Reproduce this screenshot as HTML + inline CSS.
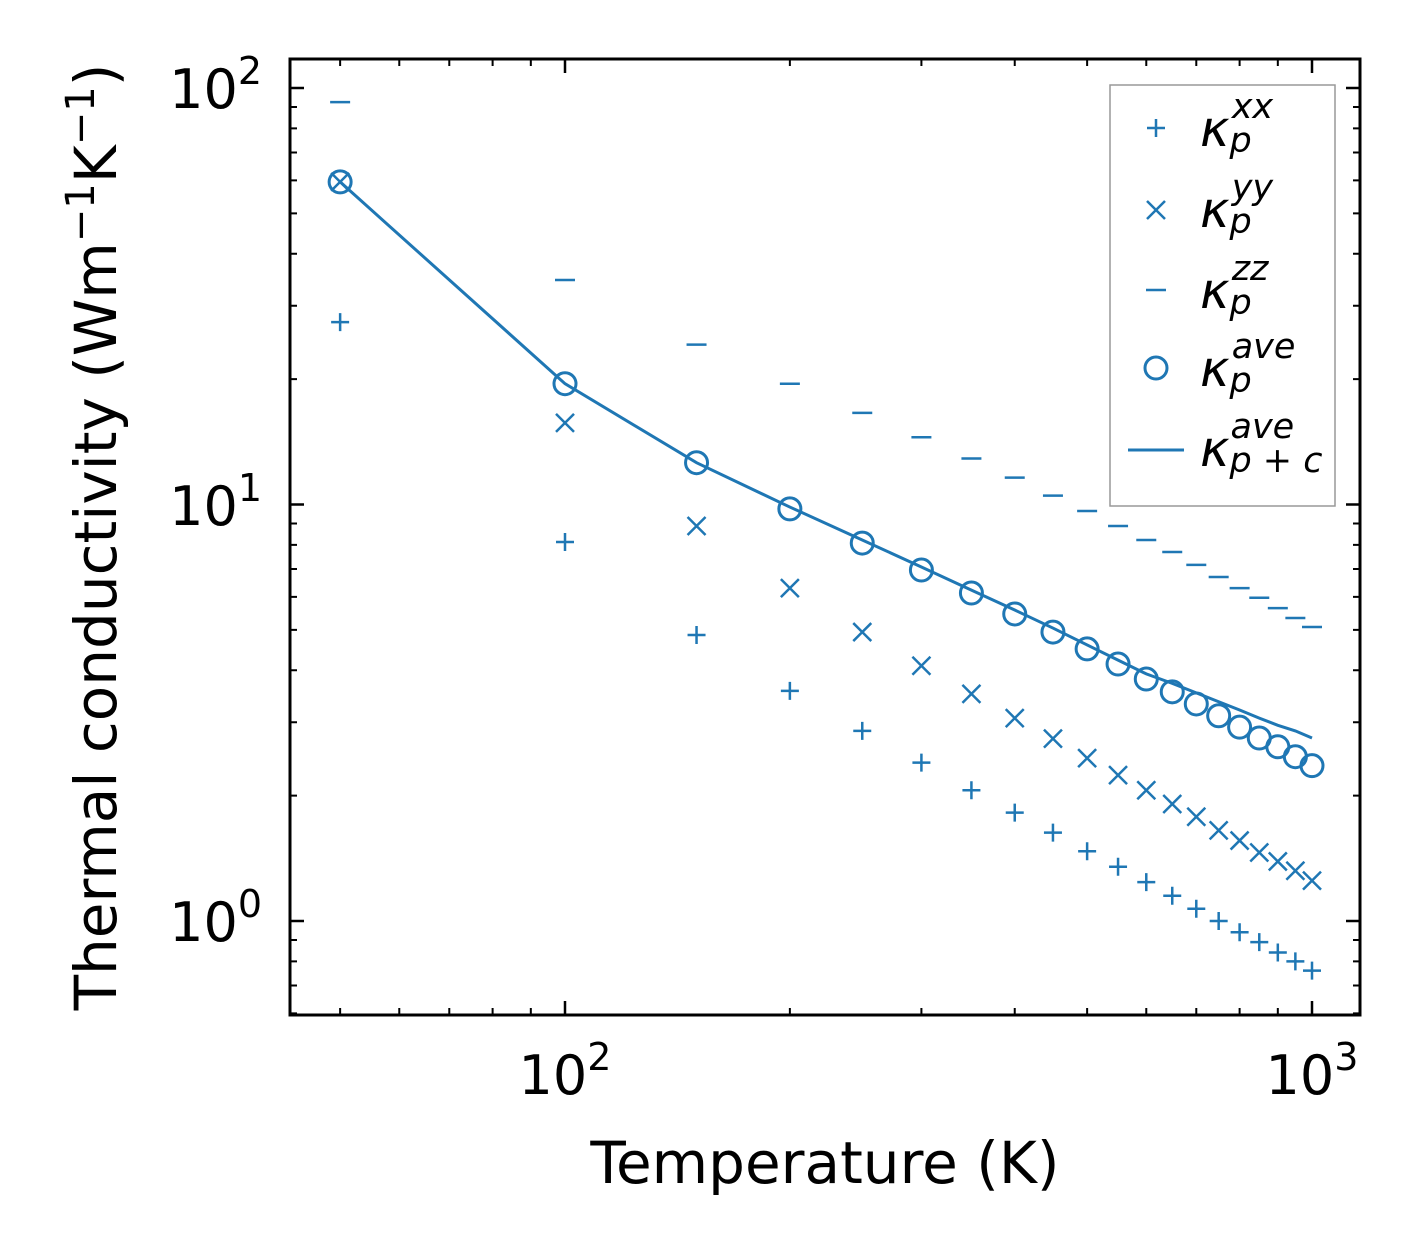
<!DOCTYPE html>
<html><head><meta charset="utf-8"><style>
html,body{margin:0;padding:0;background:#fff;}
svg text{font-family:"DejaVu Sans","Liberation Sans",sans-serif;fill:#000;}
</style></head><body>
<svg id="chart" width="1421" height="1254" viewBox="0 0 1421 1254" xmlns="http://www.w3.org/2000/svg">
<rect x="0" y="0" width="1421" height="1254" fill="#fff"/>
<g id="ticks"></g>
<g id="marks"></g>
<rect x="290" y="59" width="1070" height="956" fill="none" stroke="#000" stroke-width="3"/>
<text x="565" y="1094" font-size="54" text-anchor="middle">10<tspan dy="-24" font-size="38">2</tspan></text>
<text x="1312" y="1094" font-size="54" text-anchor="middle">10<tspan dy="-24" font-size="38">3</tspan></text>
<text x="262" y="108" font-size="54" text-anchor="end">10<tspan dy="-24" font-size="38">2</tspan></text>
<text x="262" y="525" font-size="54" text-anchor="end">10<tspan dy="-24" font-size="38">1</tspan></text>
<text x="262" y="941" font-size="54" text-anchor="end">10<tspan dy="-24" font-size="38">0</tspan></text>
<text x="825" y="1183" font-size="58" text-anchor="middle">Temperature (K)</text>
<text transform="translate(116,537) rotate(-90)" font-size="58" text-anchor="middle">Thermal conductivity (Wm<tspan dy="-22" font-size="40">−1</tspan><tspan dy="22">K</tspan><tspan dy="-22" font-size="40">−1</tspan><tspan dy="22">)</tspan></text>
<g>
<rect x="1110" y="85" width="225" height="421" fill="#fff" stroke="#999" stroke-width="1.5"/>
<g><path d="M1147 128h18M1156 119v18" stroke="#1f77b4" stroke-width="2.5"/><text x="1200" y="146" font-size="50" font-style="italic">κ<tspan font-size="35" dy="6">p</tspan><tspan font-size="35" dx="-20" dy="-34">xx</tspan></text></g>
<g><path d="M1147 201l18 18M1147 219l18 -18" stroke="#1f77b4" stroke-width="2.5"/><text x="1200" y="227" font-size="50" font-style="italic">κ<tspan font-size="35" dy="6">p</tspan><tspan font-size="35" dx="-20" dy="-34">yy</tspan></text></g>
<g><path d="M1146 290h20" stroke="#1f77b4" stroke-width="2.5"/><text x="1200" y="308" font-size="50" font-style="italic">κ<tspan font-size="35" dy="6">p</tspan><tspan font-size="35" dx="-20" dy="-34">zz</tspan></text></g>
<g><circle cx="1156" cy="368" r="11" fill="none" stroke="#1f77b4" stroke-width="3"/><text x="1200" y="386" font-size="50" font-style="italic">κ<tspan font-size="35" dy="6">p</tspan><tspan font-size="35" dx="-20" dy="-34">ave</tspan></text></g>
<g><path d="M1128 450h56" stroke="#1f77b4" stroke-width="3"/><text x="1200" y="466" font-size="50" font-style="italic">κ<tspan font-size="35" dy="6">p + c</tspan><tspan font-size="35" dx="-92" dy="-34">ave</tspan></text></g>
</g>
</svg>
<script>
const temps = [50,100,150,200,250,300,350,400,450,500,550,600,650,700,750,800,850,900,950,1000];
const kxx = [27.4,8.13,4.86,3.57,2.86,2.40,2.06,1.82,1.63,1.47,1.35,1.24,1.15,1.07,1.0,0.94,0.89,0.84,0.80,0.76];
const kyy = [59.5,15.7,8.88,6.30,4.94,4.10,3.51,3.07,2.74,2.46,2.24,2.06,1.91,1.78,1.65,1.56,1.46,1.39,1.32,1.25];
const kzz = [92.5,34.6,24.2,19.5,16.6,14.5,12.9,11.6,10.5,9.65,8.88,8.22,7.69,7.16,6.70,6.30,5.97,5.64,5.34,5.08];
const kave = [59.5,19.5,12.6,9.76,8.08,6.96,6.13,5.46,4.94,4.50,4.14,3.81,3.55,3.32,3.11,2.92,2.75,2.62,2.48,2.36];
const kavePC = [59.5,19.5,12.6,9.86,8.22,7.08,6.23,5.58,5.05,4.60,4.23,3.92,3.72,3.53,3.36,3.21,3.07,2.95,2.86,2.75];
const C = '#1f77b4', NS = 'http://www.w3.org/2000/svg';
function xs(t){return 565 + (Math.log10(t)-2)*747;}
function ys(v){return 921 - Math.log10(v)*416.5;}
const marks = document.getElementById('marks'), ticks = document.getElementById('ticks');
function mk(tag, attrs, parent){const e=document.createElementNS(NS,tag);for(const k in attrs)e.setAttribute(k,attrs[k]);parent.appendChild(e);return e;}
const xMinor=[50,60,70,80,90,200,300,400,500,600,700,800,900];
const xMajor=[100,1000];
xMajor.forEach(t=>{const x=xs(t);const p=mk('path',{d:`M${x} 1015v-14M${x} 59v14`,stroke:'#000','stroke-width':2.5},ticks);

});
xMinor.forEach(t=>{const x=xs(t);const p=mk('path',{d:`M${x} 1015v-7M${x} 59v7`,stroke:'#000','stroke-width':2},ticks);

});
[1,10,100].forEach(v=>{const y=ys(v);const p=mk('path',{d:`M290 ${y}h14M1360 ${y}h-14`,stroke:'#000','stroke-width':2.5},ticks);

});
[0.6,0.7,0.8,0.9,2,3,4,5,6,7,8,9,20,30,40,50,60,70,80,90].forEach(v=>{const y=ys(v);const p=mk('path',{d:`M290 ${y}h7M1360 ${y}h-7`,stroke:'#000','stroke-width':2},ticks);

});
const line = mk('polyline',{points:temps.map((t,i)=>xs(t)+','+ys(kavePC[i])).join(' '),fill:'none',stroke:C,'stroke-width':3},marks);


temps.forEach((t,i)=>{
  const x=xs(t);
  let y=ys(kxx[i]);
  const p=mk('path',{d:`M${x-9} ${y}h18M${x} ${y-9}v18`,stroke:C,'stroke-width':2.5},marks);
  
  
  y=ys(kyy[i]);
  const q=mk('path',{d:`M${x-9} ${y-9}l18 18M${x-9} ${y+9}l18 -18`,stroke:C,'stroke-width':2.5},marks);
  
  
  y=ys(kzz[i]);
  const r=mk('path',{d:`M${x-10} ${y}h20`,stroke:C,'stroke-width':2.5},marks);
  
  
  y=ys(kave[i]);
  const c=mk('circle',{cx:x,cy:y,r:11,fill:'none',stroke:C,'stroke-width':3},marks);
  
  
});
</script>
</body></html>
